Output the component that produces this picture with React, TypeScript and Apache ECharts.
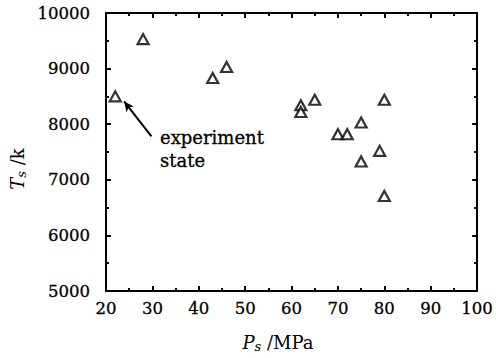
import React, { useEffect, useRef } from "react";
import * as echarts from "echarts";

const pressure = [22, 28, 43, 46, 62, 62, 65, 70, 72, 75, 75, 79, 80, 80];
const temperature = [8500, 9530, 8830, 9030, 8340, 8220, 8440, 7820, 7820, 8030, 7330, 7520, 8440, 6710];
const xTicks = [20, 30, 40, 50, 60, 70, 80, 90, 100];
const yTicks = [5000, 6000, 7000, 8000, 9000, 10000];
const arrowTail = [29.8, 7780];
const arrowHead = [23.9, 8410];
const annotation = ["experiment", "state"];
const xName = "{i|P}{sub|s}{n| /MPa}";
const yName = "{i|T}{sub|s}{n| /k}";

const FONT = "DejaVu Serif";

export default function App() {
  const ref = useRef<HTMLDivElement>(null);
  useEffect(() => {
    document.body.style.margin = "0";
    if (!ref.current) return;
    const chart = echarts.init(ref.current, null, { renderer: "svg" });
    const axisCommon = {
      type: "value" as const,
      axisLine: { show: true, lineStyle: { color: "#000", width: 2 } },
      axisTick: { show: true, inside: true, length: 5, lineStyle: { color: "#000", width: 2 } },
      minorTick: { show: true, splitNumber: 2, length: 3, lineStyle: { color: "#000", width: 2 } },
      splitLine: { show: false },
    };
    const rich = {
      i: { fontFamily: FONT, fontStyle: "italic", fontSize: 18, fill: "#000", color: "#000" },
      sub: { fontFamily: FONT, fontStyle: "italic", fontSize: 13, fill: "#000", color: "#000", padding: [9, 0, 0, 0] },
      n: { fontFamily: FONT, fontSize: 18, fill: "#000", color: "#000" },
    };
    const labelStyle = {
      color: "#000",
      fontFamily: FONT,
      fontSize: 16.5,
      textBorderColor: "#000",
      textBorderWidth: 0.3,
    };
    const data = pressure.map((p, i) => [p, temperature[i]]);
    chart.setOption({
      animation: false,
      backgroundColor: "#fff",
      grid: { left: 106, right: 16, top: 13, bottom: 67 },
      xAxis: [
        {
          ...axisCommon,
          min: xTicks[0],
          max: xTicks[xTicks.length - 1],
          interval: 10,
          position: "bottom",
          axisLabel: { ...labelStyle, margin: 9 },
        },
        {
          ...axisCommon,
          min: xTicks[0],
          max: xTicks[xTicks.length - 1],
          interval: 10,
          position: "top",
          axisLabel: { show: false },
        },
      ],
      yAxis: [
        {
          ...axisCommon,
          min: yTicks[0],
          max: yTicks[yTicks.length - 1],
          interval: 1000,
          position: "left",
          axisLabel: { ...labelStyle, margin: 16, formatter: (v: number) => String(v) },
        },
        {
          ...axisCommon,
          min: yTicks[0],
          max: yTicks[yTicks.length - 1],
          interval: 1000,
          position: "right",
          axisLabel: { show: false },
        },
      ],
      series: [
        {
          type: "scatter",
          data,
          symbol: "triangle",
          symbolSize: [11, 10],
          itemStyle: { color: "#fff", borderColor: "#000", borderWidth: 2.2 },
          markLine: {
            silent: true,
            symbol: ["none", "arrow"],
            symbolSize: [7, 10],
            label: { show: false },
            lineStyle: { color: "#000", width: 2, type: "solid" },
            data: [[{ coord: arrowTail }, { coord: arrowHead }]],
          },
        },
      ],
      graphic: [
        {
          type: "text",
          x: 160,
          y: 137,
          style: {
            text: annotation[0],
            font: `18px "${FONT}"`,
            fill: "#000",
            verticalAlign: "middle",
            stroke: "#000",
            lineWidth: 0.3,
          },
        },
        {
          type: "text",
          x: 160,
          y: 160,
          style: {
            text: annotation[1],
            font: `18px "${FONT}"`,
            fill: "#000",
            verticalAlign: "middle",
            stroke: "#000",
            lineWidth: 0.3,
          },
        },
        {
          type: "text",
          x: 278,
          y: 342,
          style: { text: xName, rich, align: "center", verticalAlign: "middle", fill: "#000" },
        },
        {
          type: "text",
          x: 17,
          y: 169,
          rotation: Math.PI / 2,
          style: { text: yName, rich, align: "center", verticalAlign: "middle", fill: "#000" },
        },
      ],
    });
    return () => chart.dispose();
  }, []);
  return <div ref={ref} style={{ width: 496, height: 358 }} />;
}
